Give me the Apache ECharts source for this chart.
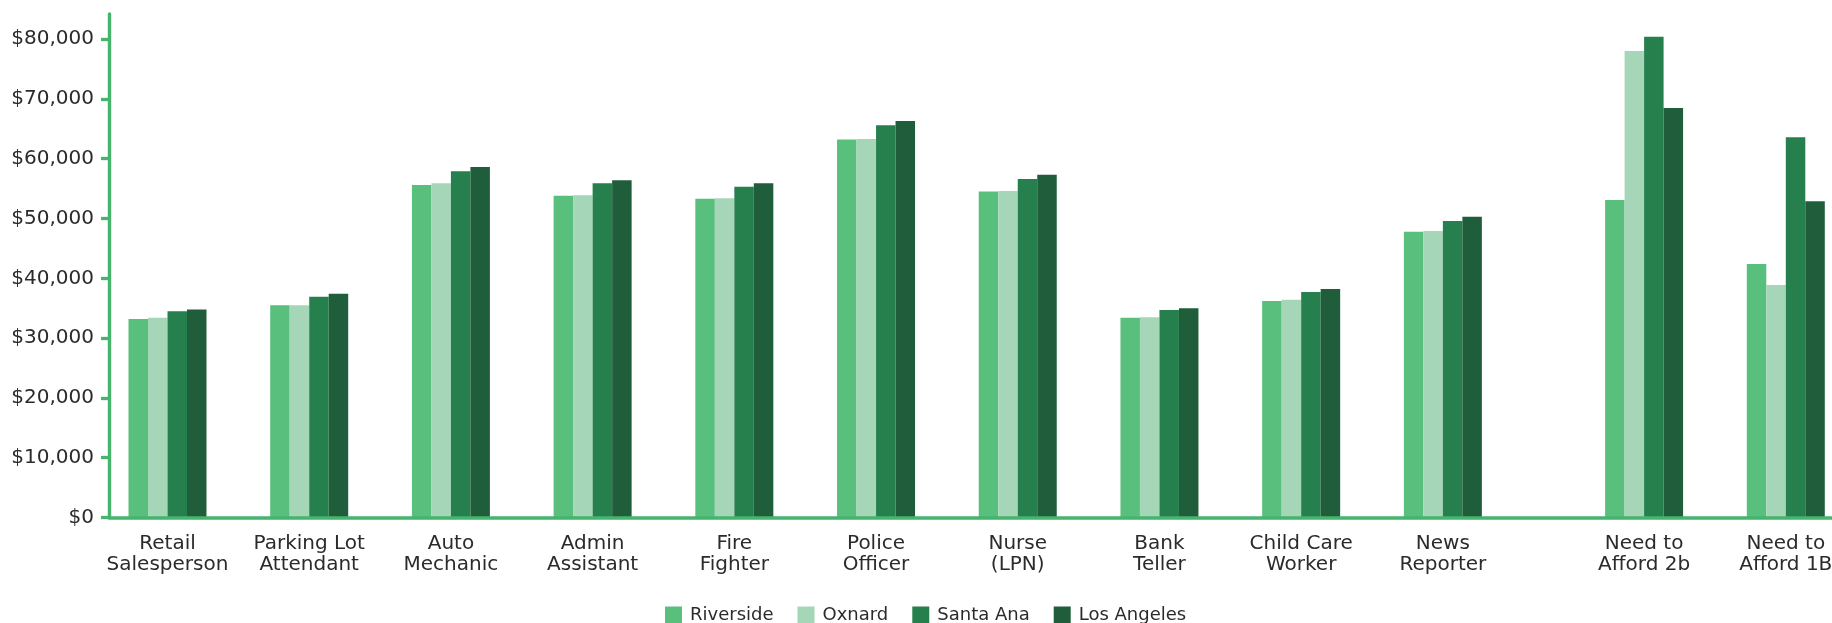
<!DOCTYPE html>
<html><head><meta charset="utf-8">
<script src="https://cdn.jsdelivr.net/npm/echarts@6/dist/echarts.min.js"></script>
<style>html,body{margin:0;padding:0;background:#fff}#c{width:1832px;height:623px}</style>
</head><body><div id="c"></div>
<script>
const categories = [
  'Retail\nSalesperson', 'Parking Lot\nAttendant', 'Auto\nMechanic', 'Admin\nAssistant',
  'Fire\nFighter', 'Police\nOfficer', 'Nurse\n(LPN)', 'Bank\nTeller',
  'Child Care\nWorker', 'News\nReporter', 'Need to\nAfford 2b', 'Need to\nAfford 1B'
];
const seriesNames = ['Riverside', 'Oxnard', 'Santa Ana', 'Los Angeles'];
const riverside  = [33200, 35500, 55600, 53800, 53300, 63200, 54500, 33400, 36200, 47800, 53100, 42400];
const oxnard     = [33400, 35500, 55900, 53900, 53400, 63300, 54600, 33500, 36400, 47900, 78000, 38900];
const santaAna   = [34500, 36900, 57900, 55900, 55300, 65600, 56600, 34700, 37700, 49600, 80400, 63600];
const losAngeles = [34800, 37400, 58600, 56400, 55900, 66300, 57300, 35000, 38200, 50300, 68500, 52900];
const yTicks = [0, 10000, 20000, 30000, 40000, 50000, 60000, 70000, 80000];

const seriesValues = [riverside, oxnard, santaAna, losAngeles];
const colors = ['#59bf7c', '#a6d6b8', '#26804e', '#205e3b'];
const axisGreen = '#46b46d';
const textColor = '#2b2b2b';
const FONT = '"DejaVu Sans", sans-serif';

// the last two groups sit after a wider gap
const xPos = categories.map((c, i) => (i >= 10 ? i + 0.42 : i));

function labelFor(v) {
  let best = 0, d = Infinity;
  xPos.forEach((p, i) => { const dd = Math.abs(p - v); if (dd < d) { d = dd; best = i; } });
  return categories[best];
}

const chart = echarts.init(document.getElementById('c'), null, { renderer: 'canvas' });
chart.setOption({
  animation: false,
  backgroundColor: '#ffffff',
  grid: { left: 109, right: 0, top: 14, bottom: 105.5, containLabel: false, outerBoundsMode: 'none' },
  legend: {
    data: seriesNames,
    left: 665, top: 606, padding: 0,
    itemWidth: 17, itemHeight: 17, itemGap: 24,
    icon: 'rect',
    textStyle: { fontFamily: FONT, fontSize: 18, color: textColor, padding: [0, 0, 0, 3] }
  },
  xAxis: {
    type: 'value',
    min: -0.4128, max: 11.746,
    z: 10,
    splitLine: { show: false },
    axisTick: { show: false },
    axisLine: { show: true, onZero: false, lineStyle: { color: axisGreen, width: 3.6 } },
    axisLabel: {
      customValues: xPos,
      formatter: v => labelFor(v),
      fontFamily: FONT, fontSize: 20, lineHeight: 21, color: textColor,
      margin: 16, align: 'center'
    }
  },
  yAxis: {
    type: 'value',
    min: 0, max: 84200,
    splitLine: { show: false },
    axisLine: { show: true, onZero: false, lineStyle: { color: axisGreen, width: 3.4 } },
    axisTick: { show: true, customValues: yTicks, length: 8, lineStyle: { color: axisGreen, width: 3.3 } },
    axisLabel: {
      customValues: yTicks,
      formatter: v => '$' + v.toLocaleString('en-US'),
      fontFamily: FONT, fontSize: 20, color: textColor, margin: 15
    }
  },
  series: seriesNames.map((name, k) => ({
    name,
    type: 'bar',
    barWidth: 19.5,
    barGap: '0%',
    itemStyle: { color: colors[k] },
    data: seriesValues[k].map((v, i) => [xPos[i], v])
  }))
});
</script>
</body></html>
